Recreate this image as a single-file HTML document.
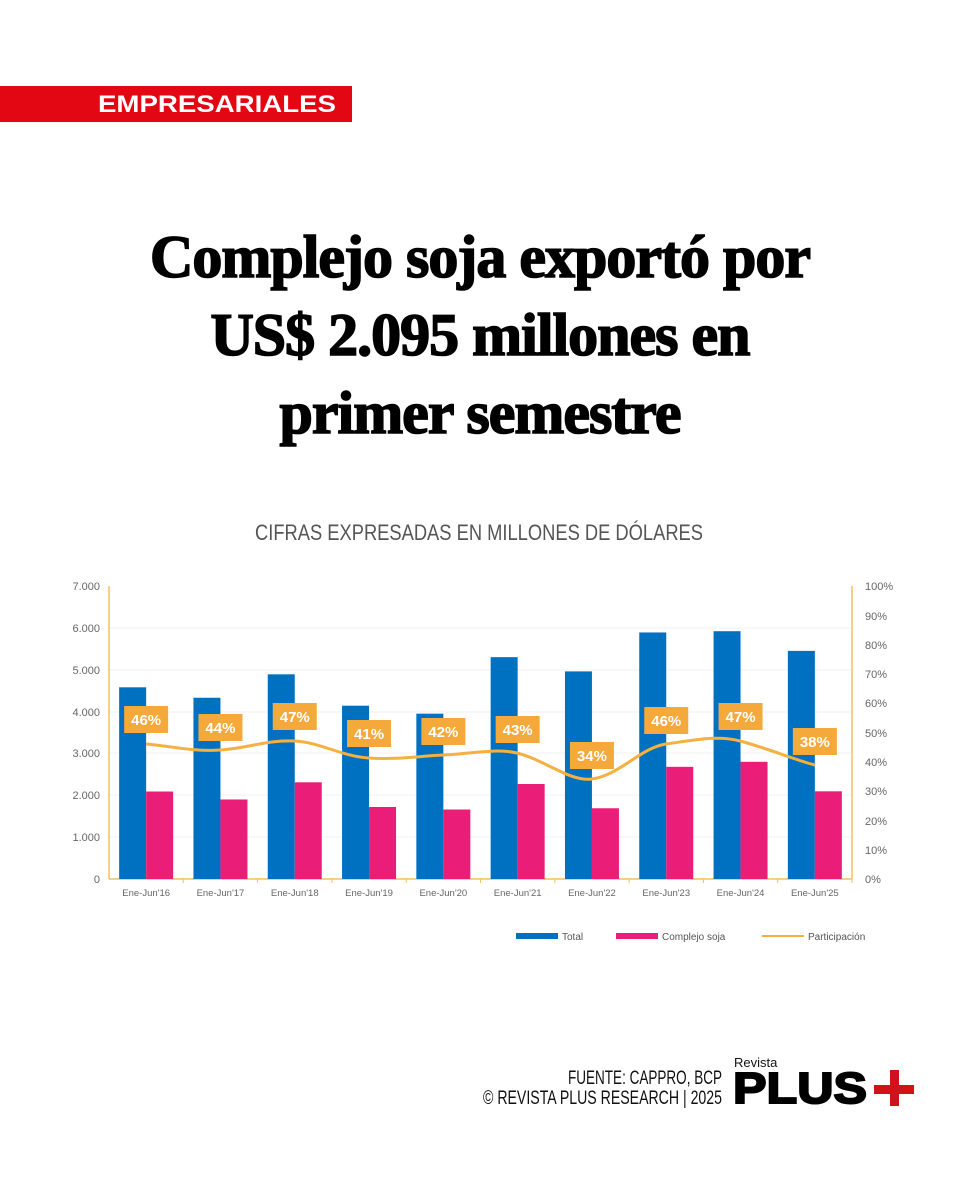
<!DOCTYPE html>
<html><head><meta charset="utf-8"><style>
body{margin:0;background:#fff;width:960px;height:1200px;overflow:hidden;position:relative;font-family:"Liberation Sans",sans-serif}
.tag{position:absolute;left:0;top:86px;width:352px;height:36px;background:#e30613}
h1{position:absolute;left:0;width:960px;top:218px;margin:0;text-align:center;font-family:"Liberation Serif",serif;font-weight:900;font-size:60px;line-height:78px;color:#000;letter-spacing:-1px;-webkit-text-stroke:1.6px #000}
</style></head><body>
<div class="tag"></div>
<h1>Complejo soja exportó por<br>US$ 2.095 millones en<br>primer semestre</h1>
<svg width="960" height="1200" style="position:absolute;left:0;top:0" font-family="Liberation Sans,sans-serif">
<text x="98" y="112" font-size="24" font-weight="bold" fill="#fff" textLength="238" lengthAdjust="spacingAndGlyphs">EMPRESARIALES</text>
<text x="255" y="540" font-size="22" fill="#555" textLength="448" lengthAdjust="spacingAndGlyphs">CIFRAS EXPRESADAS EN MILLONES DE DÓLARES</text>
<g stroke="#f2f2f2" stroke-width="1">
<line x1="109" x2="852" y1="628" y2="628"/><line x1="109" x2="852" y1="670" y2="670"/><line x1="109" x2="852" y1="712" y2="712"/><line x1="109" x2="852" y1="753" y2="753"/><line x1="109" x2="852" y1="795" y2="795"/><line x1="109" x2="852" y1="837" y2="837"/>
</g>
<g stroke="#f5c15a" stroke-width="1.5"><line x1="109" y1="586" x2="109" y2="879"/><line x1="852" y1="586" x2="852" y2="879"/><line x1="109" y1="879" x2="852" y2="879"/></g>
<g font-size="11" fill="#666" text-anchor="end">
<text x="100" y="590">7.000</text><text x="100" y="632">6.000</text><text x="100" y="674">5.000</text><text x="100" y="716">4.000</text><text x="100" y="757">3.000</text><text x="100" y="799">2.000</text><text x="100" y="841">1.000</text><text x="100" y="883">0</text>
</g>
<g font-size="11" fill="#666">
<text x="865" y="590">100%</text><text x="865" y="620">90%</text><text x="865" y="649">80%</text><text x="865" y="678">70%</text><text x="865" y="707">60%</text><text x="865" y="737">50%</text><text x="865" y="766">40%</text><text x="865" y="795">30%</text><text x="865" y="825">20%</text><text x="865" y="854">10%</text><text x="865" y="883">0%</text>
</g>
<g id="bars"></g>
<path d="M146,744 C170,746 195,752 220,750 C250,748 265,740 294,741 C320,742 340,756 369,758 C395,760 420,756 443,755 C470,754 495,748 517,753 C545,760 570,782 592,779 C620,775 640,748 666,744 C695,740 718,735 740,741 C770,749 795,760 815,765" fill="none" stroke="#f5b041" stroke-width="3"/>
<g id="lbl"></g>
<g font-size="10" fill="#555">
<rect x="516" y="933" width="42" height="6" fill="#0070c0"/><text x="562" y="940">Total</text>
<rect x="616" y="933" width="42" height="6" fill="#ea1e79"/><text x="662" y="940">Complejo soja</text>
<line x1="762" y1="936" x2="804" y2="936" stroke="#f5b041" stroke-width="2"/><text x="808" y="940">Participación</text>
</g>
<g font-size="19" fill="#111"><text x="568" y="1084" textLength="154" lengthAdjust="spacingAndGlyphs">FUENTE: CAPPRO, BCP</text><text x="483" y="1104" textLength="239" lengthAdjust="spacingAndGlyphs">© REVISTA PLUS RESEARCH | 2025</text></g>
<text x="734" y="1067" font-size="13" fill="#111">Revista</text>
<text x="733" y="1103" font-size="44" font-weight="900" fill="#000" stroke="#000" stroke-width="2" textLength="134" lengthAdjust="spacingAndGlyphs">PLUS</text>
<rect x="874" y="1085" width="40" height="9" fill="#d0121b"/><rect x="890" y="1070" width="9" height="36" fill="#d0121b"/>
</svg>
<script>
var T=[4580,4330,4890,4140,3950,5300,4960,5890,5920,5450],S=[2090,1900,2310,1720,1660,2270,1690,2680,2800,2095],
P=["46%","44%","47%","41%","42%","43%","34%","46%","47%","38%"],LY=[719,727,716,733,731,729,755,720,716,741],
N=["Ene-Jun'16","Ene-Jun'17","Ene-Jun'18","Ene-Jun'19","Ene-Jun'20","Ene-Jun'21","Ene-Jun'22","Ene-Jun'23","Ene-Jun'24","Ene-Jun'25"];
var s="",l="";
for(var i=0;i<10;i++){var c=109+74.3*i+37.15,ht=T[i]*293/7000,hs=S[i]*293/7000;
s+='<rect x="'+(c-27)+'" y="'+(879-ht)+'" width="27" height="'+ht+'" fill="#0070c0"/>';
s+='<rect x="'+c+'" y="'+(879-hs)+'" width="27" height="'+hs+'" fill="#ea1e79"/>';
s+='<text x="'+c+'" y="896" font-size="9.5" fill="#666" text-anchor="middle">'+N[i]+'</text>';
s+='<line x1="'+(c+37.15)+'" x2="'+(c+37.15)+'" y1="879" y2="883" stroke="#f5c15a"/>';
l+='<rect x="'+(c-22)+'" y="'+(LY[i]-13)+'" width="44" height="27" fill="#f5a93b"/><text x="'+c+'" y="'+(LY[i]+6)+'" font-size="15" font-weight="bold" fill="#fff" text-anchor="middle">'+P[i]+'</text>';}
document.getElementById("bars").innerHTML=s;document.getElementById("lbl").innerHTML=l;
</script>
</body></html>
